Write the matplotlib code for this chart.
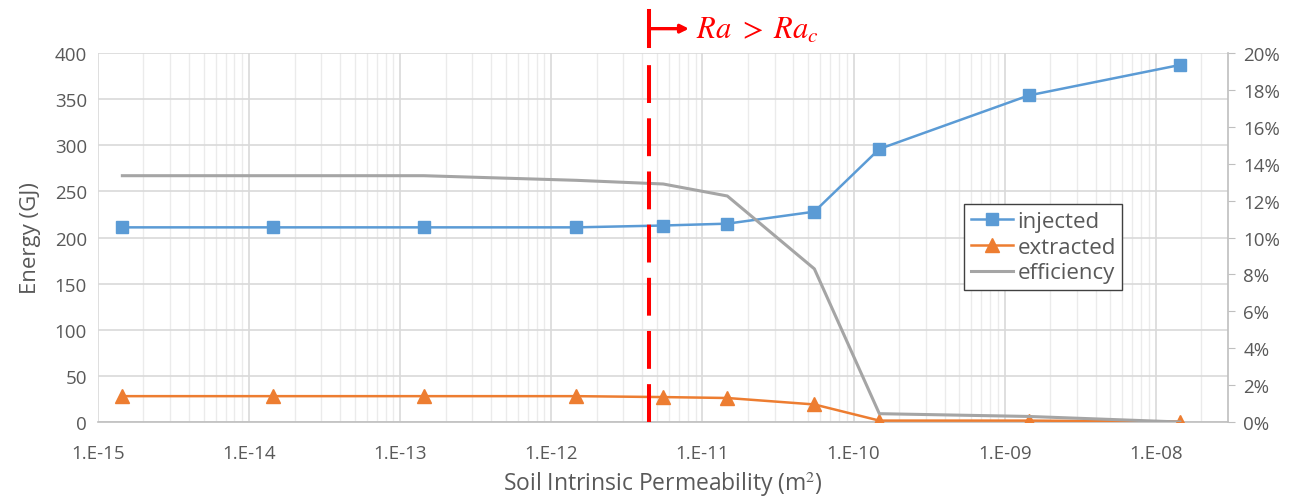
import matplotlib.pyplot as plt
import matplotlib.transforms as mtransforms
from matplotlib.ticker import FuncFormatter, FixedLocator, MultipleLocator, PercentFormatter, NullFormatter
import numpy as np

# permeability (m2) and energies
permeability = [1.45e-15, 1.43e-14, 1.43e-13, 1.46e-12, 5.5e-12,
                1.46e-11, 5.5e-11, 1.48e-10, 1.44e-9, 1.44e-8]
injected = [211, 211, 211, 211, 213, 215, 228, 296, 354, 387]
extracted = [28, 28, 28, 28, 27, 26, 19, 1.5, 1.5, 0.5]
efficiency = [13.35, 13.35, 13.35, 13.1, 12.9, 12.25, 8.3, 0.45, 0.3, 0.0]  # percent
critical_k = 4.4e-12
decades = np.arange(-15, -7)

text_col = '#595959'
plt.rcParams['font.family'] = ['Open Sans', 'DejaVu Sans']
plt.rcParams['mathtext.fontset'] = 'stix'

fig = plt.figure(figsize=(12.96, 5.02), dpi=100)
ax = fig.add_axes([0.0756, 0.1574, 0.8719, 0.735])

ax.plot(permeability, injected, '-s', color='#5B9BD5', lw=1.8, ms=8.5, label='injected', zorder=3)
ax.plot(permeability, extracted, '-^', color='#ED7D31', lw=1.8, ms=10, label='extracted', zorder=3)

ax.set_xscale('log')
ax.set_xlim(1e-15, 3e-8)
ax.set_ylim(0, 400)
ax.yaxis.set_major_locator(MultipleLocator(50))
major_x = 10.0 ** decades
minor_x = [m * d for d in major_x for m in range(2, 10) if m * d <= 3e-8]
ax.xaxis.set_major_locator(FixedLocator(major_x))
ax.xaxis.set_minor_locator(FixedLocator(minor_x))
ax.xaxis.set_major_formatter(FuncFormatter(lambda v, p: "1.E%03d" % int(round(np.log10(v)))))
ax.xaxis.set_minor_formatter(NullFormatter())

ax.grid(which='major', axis='both', color='#D9D9D9', lw=1.2)
ax.grid(which='minor', axis='x', color='#EBEBEB', lw=1.0)
ax.set_axisbelow(True)
for s in ['top', 'right', 'left']:
    ax.spines[s].set_visible(False)
ax.spines['bottom'].set_color('#BFBFBF')
ax.spines['bottom'].set_linewidth(1.2)
ax.tick_params(axis='both', which='both', length=0, labelsize=13.5, labelcolor=text_col, pad=8)
ax.tick_params(axis='x', pad=16)

ax.set_ylabel('Energy (GJ)', fontsize=16, color=text_col, labelpad=10)
ax.set_xlabel('Soil Intrinsic Permeability (m$^2$)', fontsize=16.5, color=text_col, labelpad=5)

# Secondary axis for efficiency
ax2 = ax.twinx()
ax2.plot(permeability, efficiency, '-', color='#A5A5A5', lw=2.2, label='efficiency', zorder=3)
ax2.set_ylim(0, 20)
ax2.yaxis.set_major_locator(MultipleLocator(2))
ax2.yaxis.set_major_formatter(PercentFormatter(decimals=0))
for s in ['top', 'left', 'bottom']:
    ax2.spines[s].set_visible(False)
ax2.spines['right'].set_color('#BFBFBF')
ax2.spines['right'].set_linewidth(1.2)
ax2.tick_params(axis='y', length=5, color='#BFBFBF', labelsize=13.5, labelcolor=text_col, pad=6)

# critical Rayleigh number marker
ax2.plot([critical_k, critical_k], [0, 20], color='red', lw=2.9, dashes=(9.4, 3.8), zorder=4)
trans = mtransforms.blended_transform_factory(ax.transData, ax.transAxes)
ax2.plot([critical_k, critical_k], [1.019, 1.114], color='red', lw=2.9,
         transform=trans, clip_on=False, zorder=4)
ax2.annotate('', xy=(critical_k * 1.85, 1.066), xytext=(critical_k, 1.066),
             xycoords=trans, textcoords=trans,
             arrowprops=dict(arrowstyle='-|>', color='red', lw=2.4, mutation_scale=12,
                             shrinkA=0, shrinkB=0))
ax2.text(critical_k * 2.05, 1.062, r'$Ra\ >\;Ra_c$', transform=trans, color='red',
         fontsize=22, va='center', ha='left')

h1, l1 = ax.get_legend_handles_labels()
h2, l2 = ax2.get_legend_handles_labels()
leg = ax2.legend(h1 + h2, l1 + l2, loc='upper left', bbox_to_anchor=(0.7438, 0.5916),
                 bbox_transform=fig.transFigure, borderaxespad=0, fontsize=16,
                 fancybox=False, framealpha=1, edgecolor='#404040', handlelength=1.9,
                 handletextpad=0.2, labelspacing=0.22, borderpad=0.3, labelcolor=text_col)
leg.get_frame().set_linewidth(1.0)

fig.savefig('out.png', dpi=100)
